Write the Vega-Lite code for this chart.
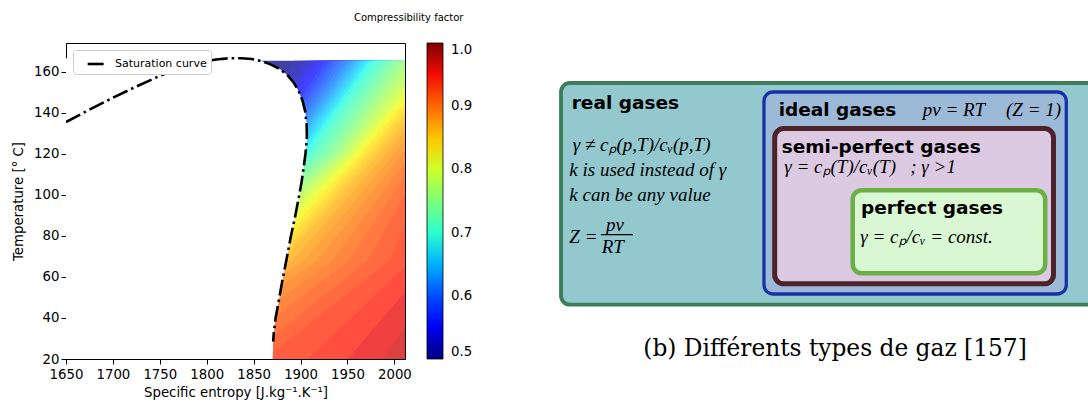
{
"$schema": "https://vega.github.io/schema/vega-lite/v6.json",
"background": "white",
"padding": {"left": 11, "top": 12, "right": 0, "bottom": 0},
"config": {
  "view": {"stroke": null},
  "font": "DejaVu Sans",
  "axis": {"domainColor": "black", "tickColor": "black", "labelColor": "black", "titleColor": "black", "labelFontSize": 13.3, "titleFontSize": 13.3, "titleFontWeight": "normal", "labelFont": "DejaVu Sans", "titleFont": "DejaVu Sans", "tickSize": 5, "grid": false, "labelFlush": false, "labelOverlap": false, "zindex": 1, "labelPadding": 2}
},
"datasets": {
  "bands": [
{"z":0.505,"T":20,"s":1600},{"z":0.505,"T":68,"s":1628},{"z":0.505,"T":120,"s":1833},{"z":0.505,"T":165.4,"s":1840},
{"z":0.515,"T":20,"s":1600},{"z":0.515,"T":68,"s":1635},{"z":0.515,"T":120,"s":1839},{"z":0.515,"T":165.4,"s":1893},
{"z":0.525,"T":20,"s":1600},{"z":0.525,"T":68,"s":1642},{"z":0.525,"T":120,"s":1844},{"z":0.525,"T":165.4,"s":1902},
{"z":0.535,"T":20,"s":1600},{"z":0.535,"T":68,"s":1649},{"z":0.535,"T":120,"s":1848},{"z":0.535,"T":165.4,"s":1908},
{"z":0.545,"T":20,"s":1600},{"z":0.545,"T":68,"s":1656},{"z":0.545,"T":120,"s":1852},{"z":0.545,"T":165.4,"s":1913},
{"z":0.555,"T":20,"s":1600},{"z":0.555,"T":68,"s":1663},{"z":0.555,"T":120,"s":1855},{"z":0.555,"T":165.4,"s":1917},
{"z":0.565,"T":20,"s":1600},{"z":0.565,"T":68,"s":1670},{"z":0.565,"T":120,"s":1858},{"z":0.565,"T":165.4,"s":1921},
{"z":0.575,"T":20,"s":1600},{"z":0.575,"T":68,"s":1677},{"z":0.575,"T":120,"s":1861},{"z":0.575,"T":165.4,"s":1926},
{"z":0.585,"T":20,"s":1600},{"z":0.585,"T":68,"s":1684},{"z":0.585,"T":120,"s":1864},{"z":0.585,"T":165.4,"s":1931},
{"z":0.595,"T":20,"s":1600},{"z":0.595,"T":68,"s":1691},{"z":0.595,"T":120,"s":1867},{"z":0.595,"T":165.4,"s":1936.1},
{"z":0.605,"T":20,"s":1600},{"z":0.605,"T":68,"s":1698},{"z":0.605,"T":120,"s":1871},{"z":0.605,"T":165.4,"s":1941.3},
{"z":0.615,"T":20,"s":1600},{"z":0.615,"T":68,"s":1705},{"z":0.615,"T":120,"s":1875},{"z":0.615,"T":165.4,"s":1946.3},
{"z":0.625,"T":20,"s":1600},{"z":0.625,"T":68,"s":1712},{"z":0.625,"T":120,"s":1879},{"z":0.625,"T":165.4,"s":1950.7},
{"z":0.635,"T":20,"s":1600},{"z":0.635,"T":68,"s":1719},{"z":0.635,"T":120,"s":1883},{"z":0.635,"T":165.4,"s":1955},
{"z":0.645,"T":20,"s":1600},{"z":0.645,"T":68,"s":1726},{"z":0.645,"T":120,"s":1887},{"z":0.645,"T":165.4,"s":1958.7},
{"z":0.655,"T":20,"s":1600},{"z":0.655,"T":68,"s":1733},{"z":0.655,"T":120,"s":1890},{"z":0.655,"T":165.4,"s":1962.4},
{"z":0.665,"T":20,"s":1600},{"z":0.665,"T":68,"s":1740},{"z":0.665,"T":120,"s":1894},{"z":0.665,"T":165.4,"s":1966.1},
{"z":0.675,"T":20,"s":1600},{"z":0.675,"T":68,"s":1747},{"z":0.675,"T":120,"s":1898},{"z":0.675,"T":165.4,"s":1969.6},
{"z":0.685,"T":20,"s":1600},{"z":0.685,"T":68,"s":1754},{"z":0.685,"T":120,"s":1902.1},{"z":0.685,"T":165.4,"s":1973.2},
{"z":0.695,"T":20,"s":1600},{"z":0.695,"T":68,"s":1761},{"z":0.695,"T":120,"s":1906.2},{"z":0.695,"T":165.4,"s":1977.2},
{"z":0.705,"T":20,"s":1600},{"z":0.705,"T":68,"s":1768},{"z":0.705,"T":120,"s":1910},{"z":0.705,"T":165.4,"s":1981.5},
{"z":0.715,"T":20,"s":1600},{"z":0.715,"T":68,"s":1775},{"z":0.715,"T":120,"s":1913.8},{"z":0.715,"T":165.4,"s":1986},
{"z":0.725,"T":20,"s":1600},{"z":0.725,"T":68,"s":1782},{"z":0.725,"T":120,"s":1918.9},{"z":0.725,"T":165.4,"s":1991},
{"z":0.735,"T":20,"s":1600},{"z":0.735,"T":68,"s":1789},{"z":0.735,"T":120,"s":1924.4},{"z":0.735,"T":165.4,"s":1995.9},
{"z":0.745,"T":20,"s":1600},{"z":0.745,"T":68,"s":1796},{"z":0.745,"T":120,"s":1929.7},{"z":0.745,"T":165.4,"s":2000.5},
{"z":0.755,"T":20,"s":1600},{"z":0.755,"T":68,"s":1803},{"z":0.755,"T":120,"s":1935},{"z":0.755,"T":165.4,"s":2005},
{"z":0.765,"T":20,"s":1600},{"z":0.765,"T":68,"s":1810},{"z":0.765,"T":120,"s":1938.7},{"z":0.765,"T":165.4,"s":2011},
{"z":0.775,"T":20,"s":1600},{"z":0.775,"T":68,"s":1817},{"z":0.775,"T":120,"s":1942.4},{"z":0.775,"T":165.4,"s":2017},
{"z":0.785,"T":20,"s":1600},{"z":0.785,"T":68,"s":1824},{"z":0.785,"T":120,"s":1946},{"z":0.785,"T":165.4,"s":2023},
{"z":0.795,"T":20,"s":1600},{"z":0.795,"T":68,"s":1831},{"z":0.795,"T":120,"s":1949.5},{"z":0.795,"T":165.4,"s":2029},
{"z":0.805,"T":20,"s":1600},{"z":0.805,"T":68,"s":1838},{"z":0.805,"T":120,"s":1952.9},{"z":0.805,"T":165.4,"s":2035},
{"z":0.815,"T":20,"s":1600},{"z":0.815,"T":68,"s":1845},{"z":0.815,"T":120,"s":1956.6},{"z":0.815,"T":165.4,"s":2040},
{"z":0.825,"T":20,"s":1600},{"z":0.825,"T":68,"s":1852},{"z":0.825,"T":120,"s":1960.6},{"z":0.825,"T":165.4,"s":2045},
{"z":0.835,"T":20,"s":1600},{"z":0.835,"T":68,"s":1859},{"z":0.835,"T":120,"s":1964.6},{"z":0.835,"T":165.4,"s":2050},
{"z":0.845,"T":20,"s":1600},{"z":0.845,"T":68,"s":1866},{"z":0.845,"T":120,"s":1970.3},{"z":0.845,"T":165.4,"s":2055},
{"z":0.855,"T":20,"s":1600},{"z":0.855,"T":68,"s":1873},{"z":0.855,"T":120,"s":1976.3},{"z":0.855,"T":165.4,"s":2060},
{"z":0.865,"T":20,"s":1690},{"z":0.865,"T":68,"s":1880},{"z":0.865,"T":120,"s":1983},{"z":0.865,"T":165.4,"s":2065},
{"z":0.875,"T":20,"s":1715},{"z":0.875,"T":68,"s":1891.3},{"z":0.875,"T":120,"s":1990.8},{"z":0.875,"T":165.4,"s":2070},
{"z":0.885,"T":20,"s":1740},{"z":0.885,"T":68,"s":1904.2},{"z":0.885,"T":120,"s":1999.5},{"z":0.885,"T":165.4,"s":2075},
{"z":0.895,"T":20,"s":1765},{"z":0.895,"T":68,"s":1918},{"z":0.895,"T":120,"s":2009},{"z":0.895,"T":165.4,"s":2080},
{"z":0.905,"T":20,"s":1790},{"z":0.905,"T":68,"s":1933.8},{"z":0.905,"T":120,"s":2018},{"z":0.905,"T":165.4,"s":2085},
{"z":0.915,"T":20,"s":1815},{"z":0.915,"T":68,"s":1951.3},{"z":0.915,"T":120,"s":2027},{"z":0.915,"T":165.4,"s":2090},
{"z":0.925,"T":20,"s":1840},{"z":0.925,"T":68,"s":1971.6},{"z":0.925,"T":120,"s":2036},{"z":0.925,"T":165.4,"s":2095},
{"z":0.935,"T":20,"s":1862},{"z":0.935,"T":68,"s":1994.8},{"z":0.935,"T":120,"s":2045},{"z":0.935,"T":165.4,"s":2100},
{"z":0.945,"T":20,"s":1908},{"z":0.945,"T":68,"s":2018},{"z":0.945,"T":120,"s":2054},{"z":0.945,"T":165.4,"s":2105},
{"z":0.955,"T":20,"s":1950},{"z":0.955,"T":68,"s":2040},{"z":0.955,"T":120,"s":2063},{"z":0.955,"T":165.4,"s":2110},
{"z":0.965,"T":20,"s":1988},{"z":0.965,"T":68,"s":2062},{"z":0.965,"T":120,"s":2072},{"z":0.965,"T":165.4,"s":2115}
  ],
  "curve": [
{"s":1650,"T":135.5},{"s":1675,"T":141.5},{"s":1700,"T":147.3},{"s":1725,"T":152.8},{"s":1750,"T":158.0},{"s":1770,"T":161.6},{"s":1790,"T":164.3},{"s":1810,"T":166.0},{"s":1825,"T":166.6},{"s":1837,"T":166.6},{"s":1848,"T":166.2},{"s":1858,"T":165.2},{"s":1868,"T":163.6},{"s":1878,"T":161.3},{"s":1886,"T":158.3},{"s":1893,"T":154.5},{"s":1898,"T":150.5},{"s":1902,"T":146},{"s":1905,"T":140.5},{"s":1906.5,"T":134},{"s":1906.7,"T":128},{"s":1905.5,"T":121},{"s":1903.5,"T":114},{"s":1901,"T":106},{"s":1898,"T":98.5},{"s":1894,"T":89},{"s":1889.4,"T":79.2},{"s":1885,"T":68.5},{"s":1880.5,"T":58},{"s":1877,"T":49},{"s":1873.4,"T":40},{"s":1871.5,"T":33},{"s":1870.8,"T":28.5}
  ],
  "mask": [
{"s":1870.3,"T":20},{"s":1870.8,"T":28.5},{"s":1871.5,"T":33},{"s":1873.4,"T":40},{"s":1877,"T":49},{"s":1880.5,"T":58},{"s":1885,"T":68.5},{"s":1889.4,"T":79.2},{"s":1894,"T":89},{"s":1898,"T":98.5},{"s":1901,"T":106},{"s":1903.5,"T":114},{"s":1905.5,"T":121},{"s":1906.7,"T":128},{"s":1906.5,"T":134},{"s":1905,"T":140.5},{"s":1902,"T":146},{"s":1898,"T":150.5},{"s":1893,"T":154.5},{"s":1886,"T":158.3},{"s":1878,"T":161.3},{"s":1868,"T":163.6},{"s":1858,"T":165.2},{"s":1848,"T":166.2},{"s":1837,"T":166.6}
  ]
},
"hconcat": [
  {
    "width": 339,
    "height": 316,
    "view": {"stroke": "black", "strokeWidth": 1},
    "title": {"text": "Compressibility factor", "anchor": "start", "frame": "group", "dx": 288, "fontSize": 10, "fontWeight": "normal", "font": "DejaVu Sans", "color": "black", "offset": 20},
    "layer": [
      {
        "data": {"name": "bands"},
        "mark": {"type": "area", "orient": "horizontal", "clip": true, "strokeWidth": 0, "fillOpacity": 1},
        "encoding": {
          "y": {"field": "T", "type": "quantitative", "scale": {"domain": [20, 174], "nice": false, "zero": false}, "axis": {"values": [20, 40, 60, 80, 100, 120, 140, 160], "format": "d", "title": "Temperature [° C]", "titlePadding": 8}},
          "x": {"field": "s", "type": "quantitative", "scale": {"domain": [1650, 2011.3], "nice": false, "zero": false}, "axis": {"values": [1650, 1700, 1750, 1800, 1850, 1900, 1950, 2000], "format": "d", "title": "Specific entropy [J.kg⁻¹.K⁻¹]", "titlePadding": 5, "labelPadding": 3}},
          "x2": {"datum": 2150},
          "detail": {"field": "z", "type": "nominal"},
          "fill": {"field": "z", "type": "quantitative",
            "scale": {"domain": [0.4999, 0.555, 0.5625, 0.67, 0.675, 0.6875, 0.82, 0.825, 0.83, 0.945, 0.955, 1.0001],
                      "range": ["#4040a0", "#4040ff", "#4040ff", "#40e4ff", "#40ecf9", "#50ffe9", "#f3ff46", "#f9f840", "#fff140", "#ff4e40", "#ee4040", "#a04040"],
                      "interpolate": "rgb", "nice": false, "zero": false},
            "legend": null
          },
          "stroke": {"field": "z", "type": "quantitative",
            "scale": {"domain": [0.5, 0.555, 0.5625, 0.67, 0.675, 0.6875, 0.82, 0.825, 0.83, 0.945, 0.955, 1.0],
                      "range": ["#000080", "#0000ff", "#0000ff", "#00dbff", "#00e6f7", "#15ffe2", "#efff08", "#f7f500", "#ffec00", "#ff1300", "#e80000", "#800000"],
                      "interpolate": "rgb", "nice": false, "zero": false},
            "legend": {"orient": "right", "offset": 22, "padding": 0, "title": null, "direction": "vertical", "gradientLength": 316, "gradientThickness": 16, "values": [0.5, 0.6, 0.7, 0.8, 0.9, 1.0], "format": ".1f", "labelFontSize": 13.3, "labelFont": "DejaVu Sans", "labelColor": "black", "labelOffset": 8, "labelBaseline": "middle", "labelOverlap": false, "gradientStrokeColor": "black", "gradientStrokeWidth": 0.8, "gradientOpacity": 1}
          }
        }
      },
      {
        "data": {"name": "mask"},
        "mark": {"type": "area", "orient": "horizontal", "fill": "white", "clip": true},
        "encoding": {
          "y": {"field": "T", "type": "quantitative"},
          "x": {"field": "s", "type": "quantitative"},
          "x2": {"datum": 1650}
        }
      },
      {
        "data": {"name": "curve"},
        "mark": {"type": "line", "stroke": "black", "strokeWidth": 2.6, "clip": true},
        "encoding": {
          "x": {"field": "s", "type": "quantitative"},
          "y": {"field": "T", "type": "quantitative"},
          "order": {"value": null},
          "strokeDash": {"datum": "Saturation curve", "type": "nominal", "scale": {"range": [[16, 4, 2.5, 4]]},
            "legend": {"orient": "top-left", "offset": 7, "title": null, "padding": 4, "fillColor": "white", "strokeColor": "#cccccc", "cornerRadius": 3, "symbolType": "stroke", "symbolStrokeColor": "black", "symbolStrokeWidth": 2.6, "symbolSize": 280, "symbolOffset": 9, "labelFontSize": 11, "labelFont": "DejaVu Sans", "labelColor": "black", "labelOffset": 9}
          }
        }
      }
    ]
  },
  {
    "width": 533,
    "height": 316,
    "layer": [
      {
        "data": {"values": [{"name": "real gases", "x1": 0.94, "x2": 102, "y1": 17.18, "y2": 87.34}]},
        "mark": {"type": "rect", "cornerRadius": 9, "clip": true, "fill": "#93c8cf", "stroke": "#3d7d58", "strokeWidth": 3.8},
        "encoding": {
          "x": {"field": "x1", "type": "quantitative", "scale": {"domain": [0, 100], "nice": false, "zero": false}, "axis": null},
          "x2": {"field": "x2"},
          "y": {"field": "y1", "type": "quantitative", "scale": {"domain": [0, 100], "nice": false, "zero": false}, "axis": null},
          "y2": {"field": "y2"}
        }
      },
      {
        "data": {"values": [{"name": "ideal gases", "x1": 39.02, "x2": 95.74, "y1": 20.57, "y2": 84.49}]},
        "mark": {"type": "rect", "cornerRadius": 9, "fill": "#9cb9d8", "stroke": "#1632a6", "strokeWidth": 3.3},
        "encoding": {"x": {"field": "x1", "type": "quantitative"}, "x2": {"field": "x2"}, "y": {"field": "y1", "type": "quantitative"}, "y2": {"field": "y2"}}
      },
      {
        "data": {"values": [{"name": "semi-perfect gases", "x1": 41.03, "x2": 93.34, "y1": 23.8, "y2": 72.94}]},
        "mark": {"type": "rect", "cornerRadius": 9, "fill": "#dccae2", "stroke": "#4b2329", "strokeWidth": 5},
        "encoding": {"x": {"field": "x1", "type": "quantitative"}, "x2": {"field": "x2"}, "y": {"field": "y1", "type": "quantitative"}, "y2": {"field": "y2"}}
      },
      {
        "data": {"values": [{"name": "perfect gases", "x1": 55.67, "x2": 91.78, "y1": 27.15, "y2": 53.39}]},
        "mark": {"type": "rect", "cornerRadius": 9, "fill": "#d8f7d2", "stroke": "#6ab046", "strokeWidth": 4.5},
        "encoding": {"x": {"field": "x1", "type": "quantitative"}, "x2": {"field": "x2"}, "y": {"field": "y1", "type": "quantitative"}, "y2": {"field": "y2"}}
      },
      {
        "data": {"values": [
          {"x": 2.95, "y": 79.02, "t": "real gases"},
          {"x": 41.78, "y": 76.9, "t": "ideal gases"},
          {"x": 42.35, "y": 65.28, "t": "semi-perfect gases"},
          {"x": 57.22, "y": 45.79, "t": "perfect gases"}
        ]},
        "mark": {"type": "text", "align": "left", "baseline": "alphabetic", "font": "DejaVu Sans", "fontWeight": "bold", "fontSize": 18.5, "color": "black"},
        "encoding": {"x": {"field": "x", "type": "quantitative"}, "y": {"field": "y", "type": "quantitative"}, "text": {"field": "t"}}
      },
      {
        "data": {"values": [
          {"x": 68.8, "y": 76.9, "t": "pv = RT"},
          {"x": 84.43, "y": 76.9, "t": "(Z = 1)"},
          {"x": 42.83, "y": 58.96, "t": "γ = cₚ(T)/cᵥ(T)\u00a0\u00a0\u00a0; γ >1"},
          {"x": 57.09, "y": 36.8, "t": "γ = cₚ/cᵥ = const."},
          {"x": 3.13, "y": 65.82, "t": "γ ≠ cₚ(p,T)/cᵥ(p,T)"},
          {"x": 2.5, "y": 57.91, "t": "k is used instead of γ"},
          {"x": 2.5, "y": 50.0, "t": "k can be any value"},
          {"x": 2.5, "y": 36.8, "t": "Z ="},
          {"x": 9.38, "y": 40.51, "t": "pv"},
          {"x": 8.57, "y": 33.64, "t": "RT"}
        ]},
        "mark": {"type": "text", "align": "left", "baseline": "alphabetic", "font": "Liberation Serif", "fontStyle": "italic", "fontSize": 19, "color": "black"},
        "encoding": {"x": {"field": "x", "type": "quantitative"}, "y": {"field": "y", "type": "quantitative"}, "text": {"field": "t"}}
      },
      {
        "data": {"values": [{"x": 8.44, "x2": 14.45, "y": 39.34}]},
        "mark": {"type": "rule", "color": "black", "strokeWidth": 1.2},
        "encoding": {"x": {"field": "x", "type": "quantitative"}, "x2": {"field": "x2"}, "y": {"field": "y", "type": "quantitative"}}
      },
      {
        "data": {"values": [{"x": 52.35, "y": 0.95, "t": "(b) Différents types de gaz [157]"}]},
        "mark": {"type": "text", "align": "center", "baseline": "alphabetic", "font": "DejaVu Serif", "fontSize": 23.3, "color": "black"},
        "encoding": {"x": {"field": "x", "type": "quantitative"}, "y": {"field": "y", "type": "quantitative"}, "text": {"field": "t"}}
      }
    ]
  }
],
"spacing": 151,
"bounds": "flush",
"resolve": {"scale": {"fill": "independent", "stroke": "independent", "strokeDash": "independent", "x": "independent", "y": "independent"}}
}
